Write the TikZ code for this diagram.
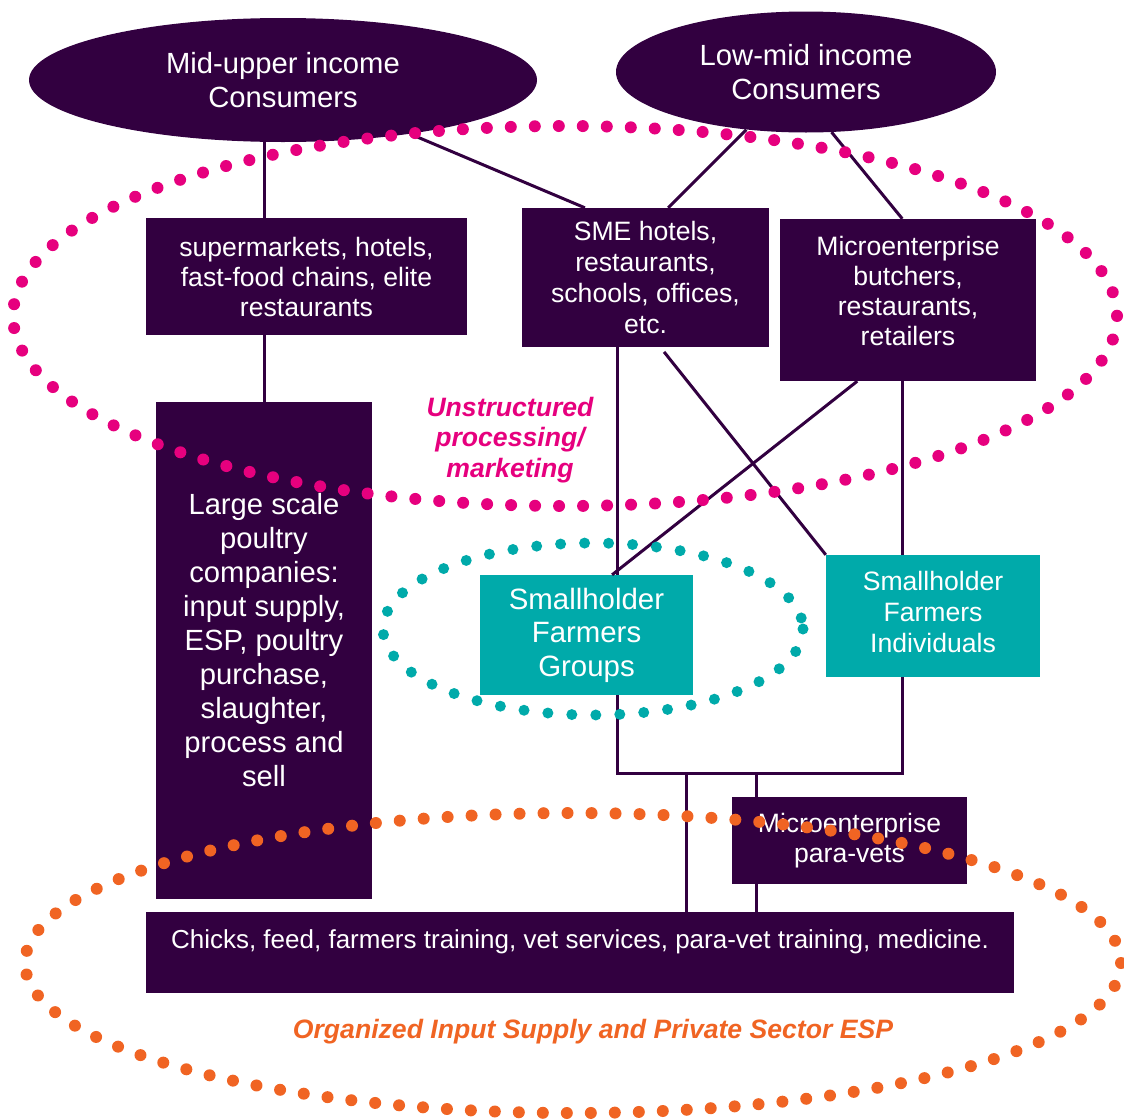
\documentclass[tikz,border=0pt]{standalone}
\usepackage{fontspec}
\setmainfont{Liberation Sans}
\usetikzlibrary{shapes.geometric,calc}
\definecolor{plum}{RGB}{50,0,64}
\definecolor{seagreen}{RGB}{0,170,170}
\definecolor{magent}{RGB}{230,0,126}
\definecolor{tangerine}{RGB}{240,100,35}
\begin{document}
\begin{tikzpicture}[x=1pt, y=-1pt,
  box/.style={fill=plum, text=white, align=center, inner sep=0pt, font=\fontsize{26.6}{30}\selectfont},
  oval/.style={ellipse, fill=plum, text=white, align=center, inner sep=0pt, font=\fontsize{29.2}{34}\selectfont},
  farmbox/.style={fill=seagreen, text=white, align=center, inner sep=0pt, font=\fontsize{26.6}{31}\selectfont},
  link/.style={draw=plum, line width=3pt},
  ring/.style={line width=12pt, line cap=round, dash pattern=on 0pt off 24pt},
  tag/.style={align=center, font=\fontsize{26.6}{30.5}\selectfont\bfseries\itshape}]
    \useasboundingbox (0,0) rectangle (1124,1119);
    % consumers
    \node[oval, minimum width=508pt, minimum height=124pt] (mu) at (283,80) {Mid-upper income\\Consumers};
    \node[oval, minimum width=380pt, minimum height=121pt] (lm) at (806,72) {Low-mid income\\Consumers};
    % processing / marketing
    \node[box, minimum width=321pt, minimum height=117pt] (sup) at (306.5,276.5) {supermarkets, hotels,\\fast-food chains, elite\\restaurants};
    \node[box, minimum width=247pt, minimum height=139pt, font=\fontsize{26.6}{30.7}\selectfont] (sme) at (645.5,277.5) {SME hotels,\\restaurants,\\schools, offices,\\etc.};
    \node[box, minimum width=256pt, minimum height=162pt] (mb) at (908,300) {Microenterprise\\butchers,\\restaurants,\\retailers\\[-12pt]\mbox{}};
    \node[box, minimum width=216pt, minimum height=497pt, font=\fontsize{29.2}{34}\selectfont] (ls) at (264,650.5) {Large scale\\poultry\\companies:\\input supply,\\ESP, poultry\\purchase,\\slaughter,\\process and\\sell\\[-12pt]\mbox{}};
    % producers
    \node[farmbox, minimum width=213pt, minimum height=120pt, font=\fontsize{29.4}{33.5}\selectfont] (sfg) at (586.5,635) {Smallholder\\Farmers\\Groups};
    \node[farmbox, minimum width=214pt, minimum height=122pt] (sfi) at (933,616) {Smallholder\\Farmers\\Individuals\\[-23pt]\mbox{}};
    % inputs and services
    \node[box, minimum width=235pt, minimum height=87pt] (pv) at (849.5,840.5) {Microenterprise\\para-vets};
    \node[box, minimum width=868pt, minimum height=81pt, font=\fontsize{26}{30}\selectfont] (chk) at (580,952.5) {Chicks, feed, farmers training, vet services, para-vet training, medicine.\\[-4pt]\mbox{}};
    \node[tag, text=magent] (unstr) at (510,440) {Unstructured\\processing/\\marketing};
    \node[tag, text=tangerine] (org) at (593,1032) {Organized Input Supply and Private Sector ESP};
    % junctions
    \coordinate (jl) at (617,773);
    \coordinate (jr) at (902,773);
    \coordinate (jm) at (686,773);
    \coordinate (jp) at (756,773);
    % links
    \draw[link] (mu.south -| ls.north) -- (sup.north -| ls.north);
    \draw[link] (sup.south -| ls.north) -- (ls.north);
    \draw[link] (mu.-23) -- (sme.131);
    \draw[link] (lm.-136) -- (sme.72);
    \draw[link] (lm.-67) -- (mb.94);
    \draw[link] (sme.south -| jl) -- (sfg.north -| jl);
    \draw[link, shorten <=6pt] (sme.-78) -- (sfi.north west);
    \draw[link] (mb.-122) -- (sfg.67);
    \draw[link] (mb.south -| jr) -- (sfi.north -| jr);
    \draw[link] (sfg.south -| jl) -- (jl) -- (jr) -- (sfi.south -| jr);
    \draw[link] (jm) -- (chk.north -| jm);
    \draw[link] (jp) -- (pv.north -| jp);
    \draw[link] (pv.south -| jp) -- (chk.north -| jp);
    % dotted rings
    \draw[ring, magent] (565,316) ellipse [x radius=552, y radius=190];
    \draw[ring, seagreen, line width=11pt] (593,629) ellipse [x radius=210, y radius=86];
    \draw[ring, tangerine] (573,963) ellipse [x radius=548, y radius=150];
\end{tikzpicture}
\end{document}
